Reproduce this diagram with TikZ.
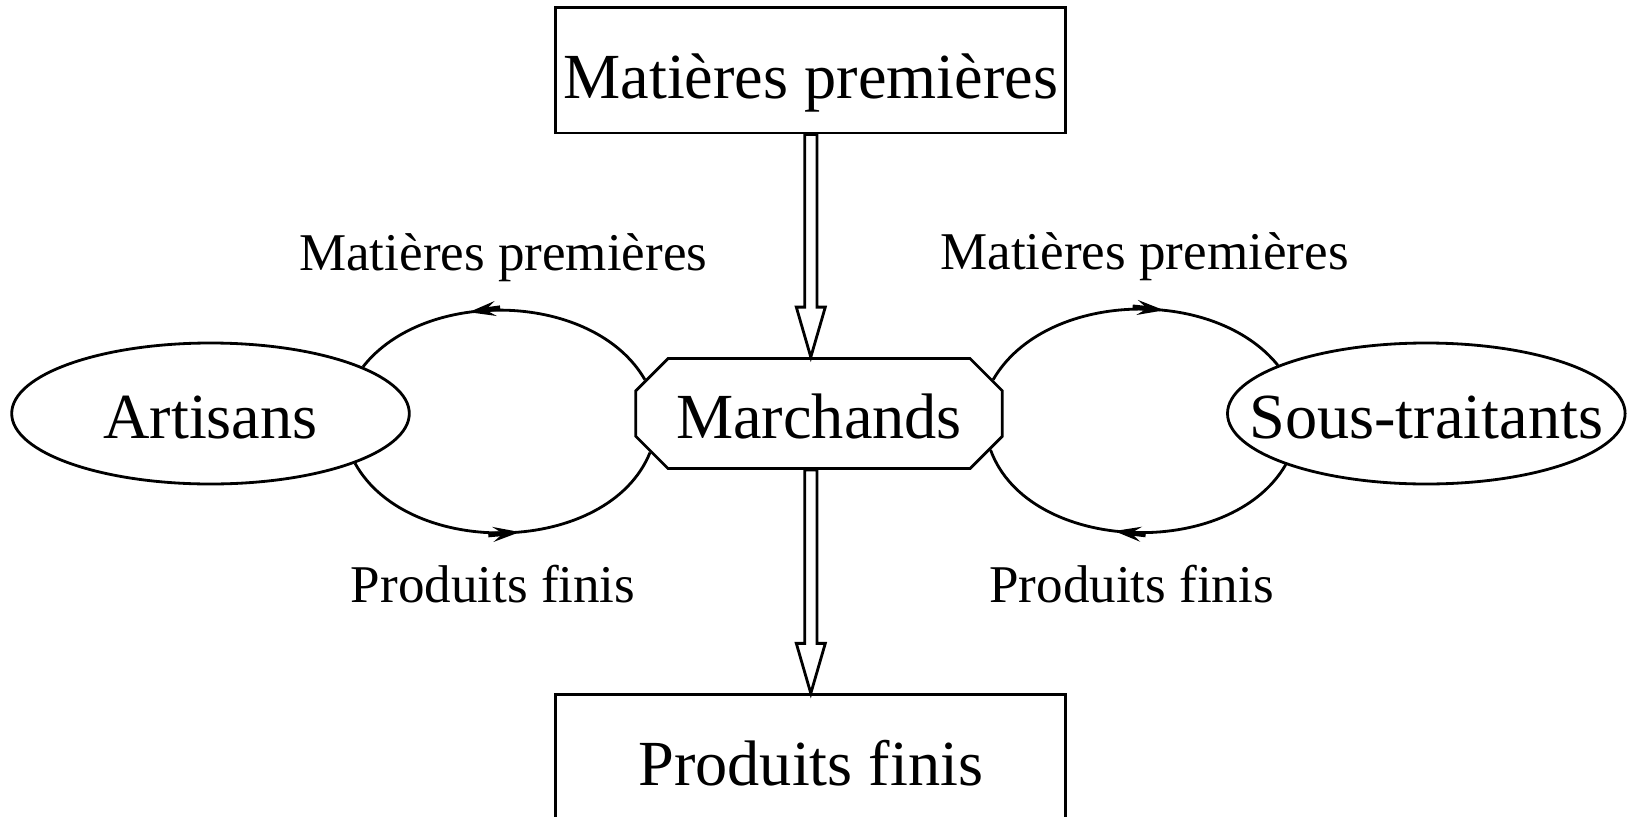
\documentclass[tikz,border=0pt]{standalone}
\usepackage{fontspec}
\setmainfont{Liberation Serif}
\usepackage{tikz}
\usetikzlibrary{arrows.meta,calc,decorations.markings,positioning,shapes.geometric,shapes.misc}

\begin{document}
\begin{tikzpicture}[line width=0.8pt,on grid,
        stock/.style={draw, rectangle, inner sep=0pt, minimum width=5.10cm, minimum height=1.255cm,
            text height=0.66cm, text depth=0.10cm, font=\fontsize{18.3}{21}\selectfont},
        merchant/.style={draw, chamfered rectangle, chamfered rectangle xsep=0.163cm,
            chamfered rectangle ysep=0.16cm, inner sep=0pt, minimum width=3.666cm, minimum height=1.10cm,
            text height=0.59cm, text depth=0.10cm, font=\fontsize{18.3}{21}\selectfont},
        maker/.style={draw, ellipse, inner sep=0pt, minimum width=3.976cm, minimum height=1.41cm,
            text height=0.59cm, text depth=0.10cm, font=\fontsize{18.3}{21}\selectfont},
        flowlabel/.style={inner sep=0pt, font=\fontsize{15.1}{18}\selectfont},
        midtip/.style={postaction={decorate}, decoration={markings,
            mark=at position #1 with {\arrow{Stealth[length=0.27cm,width=0.15cm,inset=0.10cm]}
                \fill (-0.317cm,-0.025cm) rectangle (-0.15cm,0.025cm);}}},
        hollow/.style={to path={let \p1=(\tikztostart), \p2=(\tikztotarget) in
            (\x1-0.061cm,\y1) -- (\x1-0.061cm,\y2+0.5cm) -- (\x1-0.145cm,\y2+0.5cm) -- (\x2,\y2)
            -- (\x1+0.145cm,\y2+0.5cm) -- (\x1+0.061cm,\y2+0.5cm) -- (\x1+0.061cm,\y1) -- cycle}}]
    \useasboundingbox (0,0) rectangle (16.34,-8.17);

    \node[stock]    (mp) at (8.108,-0.702) {Matières premières};
    \node[merchant] (march) [below right=3.433cm and 0.082cm of mp] {Marchands};
    \node[maker]    (art) [left=6.085cm of march] {\makebox[0pt]{Artisans}};
    \node[maker]    (sst) [right=6.073cm of march] {\makebox[0pt]{Sous-traitants}};
    \node[stock]    (pf) [below=6.873cm of mp] {Produits finis};

    % flux principal
    \draw (mp.south) to[hollow] (mp.south |- march.north);
    \draw (march.south -| pf.north) to[hollow] (pf.north);

    % boucles artisans / sous-traitants
    \path
    (march.169) edge [midtip=0.62, out=120, in=52, looseness=0.92]
                node[flowlabel, above=0.27cm, xshift=-0.05cm] {Matières premières} (art.17)
    (art.341)   edge [midtip=0.54, out=-61, in=248, looseness=0.96]
                node[flowlabel, below=0.31cm, xshift=-0.14cm] {Produits finis} (march.193)
    (march.11)  edge [midtip=0.60, out=60, in=129, looseness=0.92]
                node[flowlabel, above=0.27cm, xshift=0.14cm] {Matières premières} (sst.162)
    (sst.200)   edge [midtip=0.555, out=-120, in=-70, looseness=0.96]
                node[flowlabel, below=0.31cm] {Produits finis} (march.348);
\end{tikzpicture}
\end{document}
